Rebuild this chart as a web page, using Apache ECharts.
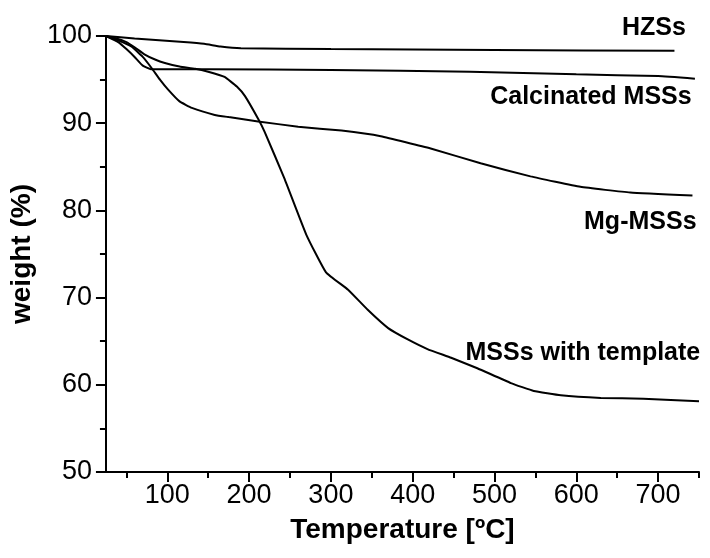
<!DOCTYPE html>
<html>
<head>
<meta charset="utf-8">
<script src="https://cdn.jsdelivr.net/npm/echarts@6/dist/echarts.min.js"></script>
<style>html,body{margin:0;padding:0;background:#fff}#c{width:710px;height:558px}</style>
</head>
<body>
<div id="c"></div>
<script>
// Temperature (ºC) / weight (%) pairs
const hzssT   = [25, 60, 120, 145, 165, 190, 300, 500, 720];
const hzssW   = [100, 99.7, 99.3, 99.1, 98.8, 98.6, 98.5, 98.4, 98.3];

const calcT   = [25, 40, 50, 60, 70, 80, 150, 300, 470, 600, 700, 745];
const calcW   = [100, 99.3, 98.5, 97.6, 96.6, 96.2, 96.2, 96.1, 95.9, 95.6, 95.4, 95.1];

const mgT     = [25, 40, 56, 70, 81, 91, 101, 115, 130, 158, 175, 211, 260, 313, 361, 422, 483, 544, 605, 666, 742];
const mgW     = [100, 99.5, 98.8, 97.6, 96.3, 95.0, 93.85, 92.5, 91.75, 90.95, 90.7, 90.2, 89.6, 89.15, 88.5, 87.1, 85.4, 83.9, 82.7, 82.05, 81.7];

const tplT    = [25, 35, 50, 60, 72, 85, 97, 115, 134, 150, 170, 185, 195, 211, 219, 243, 270, 294, 321, 345, 370, 394, 418, 447, 479, 520, 548, 581, 630, 682, 750];
const tplW    = [100, 99.8, 99.3, 98.7, 97.9, 97.3, 96.9, 96.5, 96.25, 95.9, 95.3, 94.2, 93.1, 90.5, 89.0, 83.7, 77.2, 72.9, 70.9, 68.6, 66.5, 65.2, 64.1, 63.1, 61.9, 60.2, 59.3, 58.8, 58.5, 58.4, 58.1];

const seriesNames = ['HZSs', 'Calcinated MSSs', 'Mg-MSSs', 'MSSs with template'];
const xMajorTicks = [100, 200, 300, 400, 500, 600, 700];
const xMinorTicks = [50, 150, 250, 350, 450, 550, 650, 750];

// label anchors (data coordinates, right end of each label)
const labelAnchors = [[734, 100.9], [741, 93.0], [747, 78.6], [751.5, 63.6]];

const zip = (a, b) => a.map((v, i) => [v, b[i]]);
const datasets = [zip(hzssT, hzssW), zip(calcT, calcW), zip(mgT, mgW), zip(tplT, tplW)];

const FONT = '"Liberation Sans", Arial, sans-serif';
const chart = echarts.init(document.getElementById('c'), null, {renderer: 'canvas'});

const series = datasets.map((d, i) => ({
  name: seriesNames[i],
  type: 'line',
  data: d,
  xAxisIndex: 0,
  showSymbol: false,
  symbol: 'none',
  smooth: 0.12,
  lineStyle: {color: '#000', width: 2},
  silent: true
}));

chart.setOption({
  animation: false,
  backgroundColor: '#fff',
  grid: {left: 105, right: 11, top: 36, bottom: 86, containLabel: false},
  xAxis: [{
    type: 'value',
    min: 25, max: 750,
    position: 'bottom',
    name: 'Temperature [ºC]',
    nameLocation: 'middle',
    nameGap: 44,
    nameTextStyle: {color: '#000', fontFamily: FONT, fontWeight: 'bold', fontSize: 28},
    axisLine: {show: true, onZero: false, lineStyle: {color: '#000', width: 2}},
    axisTick: {show: true, inside: false, length: 10, lineStyle: {color: '#000', width: 2}, customValues: xMajorTicks},
    axisLabel: {show: true, margin: 10, color: '#000', fontFamily: FONT, fontSize: 27, customValues: xMajorTicks},
    splitLine: {show: false}
  }, {
    type: 'value',
    min: 25, max: 750,
    position: 'bottom',
    axisLine: {show: false},
    axisTick: {show: true, inside: false, length: 6, lineStyle: {color: '#000', width: 2}, customValues: xMinorTicks},
    axisLabel: {show: false},
    splitLine: {show: false}
  }],
  yAxis: {
    type: 'value',
    min: 50, max: 100, interval: 10,
    name: 'weight (%)',
    nameLocation: 'middle',
    nameGap: 62,
    nameTextStyle: {color: '#000', fontFamily: FONT, fontWeight: 'bold', fontSize: 28},
    axisLine: {show: true, onZero: false, lineStyle: {color: '#000', width: 2}},
    axisTick: {show: true, inside: false, length: 10, lineStyle: {color: '#000', width: 2}},
    minorTick: {show: true, splitNumber: 2, length: 6, lineStyle: {color: '#000', width: 2}},
    axisLabel: {show: true, margin: 14, color: '#000', fontFamily: FONT, fontSize: 27},
    splitLine: {show: false},
    minorSplitLine: {show: false}
  },
  series: series
});

// series name labels, placed through the chart's coordinate system
const texts = seriesNames.map((name, i) => {
  const p = chart.convertToPixel({xAxisIndex: 0, yAxisIndex: 0}, labelAnchors[i]);
  return {
    type: 'text',
    x: p[0], y: p[1],
    silent: true,
    style: {
      text: name,
      fill: '#000',
      font: 'bold 25px ' + FONT,
      textAlign: 'right',
      textVerticalAlign: 'middle'
    }
  };
});
chart.setOption({graphic: texts});
</script>
</body>
</html>
